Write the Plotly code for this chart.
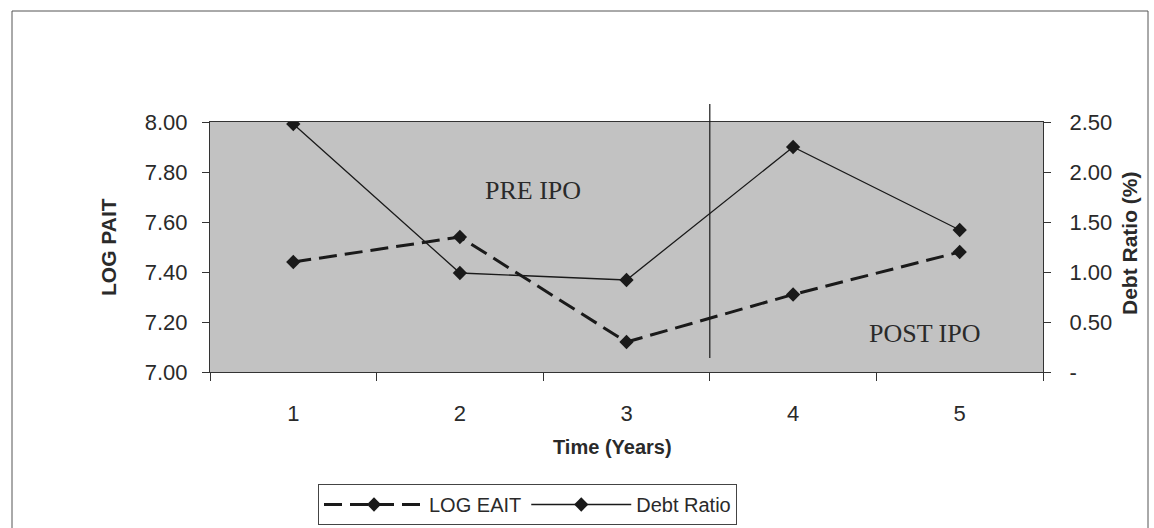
import plotly.graph_objects as go

years = [1, 2, 3, 4, 5]
year_labels = ["1", "2", "3", "4", "5"]
log_eait = [7.44, 7.54, 7.12, 7.31, 7.48]
debt_ratio = [2.48, 0.99, 0.92, 2.25, 1.42]
left_ticks = [7.0, 7.2, 7.4, 7.6, 7.8, 8.0]
left_labels = ["7.00", "7.20", "7.40", "7.60", "7.80", "8.00"]
right_ticks = [0, 0.5, 1.0, 1.5, 2.0, 2.5]
right_labels = ["-", "0.50", "1.00", "1.50", "2.00", "2.50"]

L, R, T, B = 210, 1043, 122, 372
PW, PH = R - L, B - T


def px(x):
    return (x - L) / PW


def py(y):
    return (B - y) / PH


fig = go.Figure()
fig.add_trace(go.Scatter(
    x=years, y=log_eait, name="LOG EAIT", mode="lines+markers",
    line=dict(color="#1a1a1a", width=3, dash="18px,8px"),
    marker=dict(symbol="diamond", size=11, color="#1a1a1a"),
    yaxis="y"))
fig.add_trace(go.Scatter(
    x=years, y=debt_ratio, name="Debt Ratio", mode="lines+markers",
    line=dict(color="#1a1a1a", width=1.3),
    marker=dict(symbol="diamond", size=11, color="#1a1a1a"),
    yaxis="y2"))

sans = "Liberation Sans, Arial"
serif = "Liberation Serif, Times New Roman"


def label(text, x, y, size, family=sans, angle=0):
    return dict(text=text, x=px(x), y=py(y), xref="paper", yref="paper",
                xanchor="center", yanchor="middle", textangle=angle,
                showarrow=False, font=dict(family=family, size=size, color="#2a2a2a"))


fig.update_layout(
    width=1154, height=528,
    margin=dict(l=L, r=1154 - R, t=T, b=528 - B, autoexpand=False),
    paper_bgcolor="white", plot_bgcolor="#c2c2c2",
    font=dict(family=sans, size=22, color="#2a2a2a"),
    showlegend=True,
    legend=dict(orientation="h", x=px(318), y=py(484), xanchor="left", yanchor="top",
                bordercolor="#444", borderwidth=1, bgcolor="white",
                font=dict(size=20), itemwidth=100, tracegroupgap=0),
    xaxis=dict(range=[0.5, 5.5], tickvals=years, ticktext=year_labels,
               ticks="", showgrid=False, zeroline=False, automargin=False,
               showline=True, linecolor="#333", linewidth=1, mirror=True,
               minor=dict(ticks="outside", tick0=0.5, dtick=1, ticklen=8,
                          tickcolor="#333", showgrid=False),
               ticklabelstandoff=22, tickfont=dict(size=22)),
    yaxis=dict(range=[7.0, 8.0], tickvals=left_ticks, ticktext=left_labels,
               ticks="outside", ticklen=7, tickcolor="#333", automargin=False,
               showgrid=False, zeroline=False,
               showline=True, linecolor="#333", linewidth=1,
               ticklabelstandoff=10, tickfont=dict(size=22)),
    yaxis2=dict(range=[0, 2.5], tickvals=right_ticks, ticktext=right_labels,
                overlaying="y", side="right", automargin=False,
                ticks="outside", ticklen=7, tickcolor="#333",
                showgrid=False, zeroline=False,
                showline=True, linecolor="#333", linewidth=1,
                ticklabelstandoff=14, tickfont=dict(size=22)),
    shapes=[
        dict(type="line", xref="x", yref="paper", x0=3.5, x1=3.5, y0=py(358), y1=py(104),
             line=dict(color="#1a1a1a", width=1.2)),
        dict(type="rect", xref="paper", yref="paper", x0=px(12), x1=px(1148), y0=py(560), y1=py(11),
             line=dict(color="#555", width=1), fillcolor="rgba(0,0,0,0)", layer="below"),
    ],
    annotations=[
        label("PRE IPO", 533, 190, 26, serif),
        label("POST IPO", 925, 333, 26, serif),
        label("<b>LOG PAIT</b>", 108, 247, 21, angle=-90),
        label("<b>Debt Ratio (%)</b>", 1129, 243, 21, angle=-90),
        label("<b>Time (Years)</b>", 612, 447, 20),
    ],
)

fig.write_html("out.html", config={"displayModeBar": False},
               post_script="document.body.style.margin='0px';")
